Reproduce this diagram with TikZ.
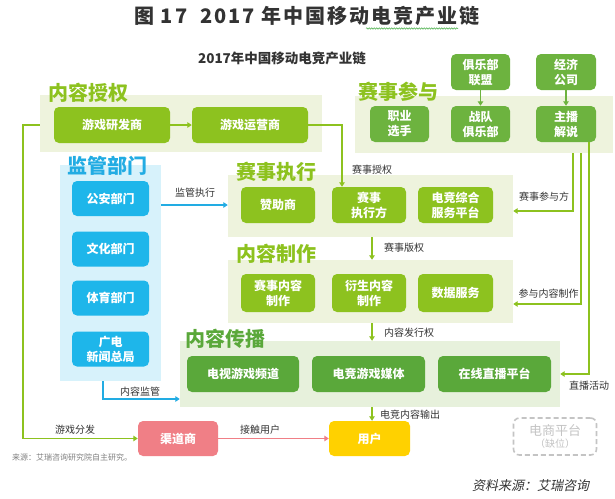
\documentclass[tikz,border=0pt]{standalone}
\usepackage{fontspec}
\setmainfont{Noto Sans CJK SC}
\newfontfamily\slantfont{Noto Sans CJK SC}[FakeSlant=0.2]
\usetikzlibrary{arrows.meta,decorations.pathmorphing}
\definecolor{panelg}{HTML}{EEF3DD}
\definecolor{panelc}{HTML}{E7F1DC}
\definecolor{panelb}{HTML}{D7F2FB}
\definecolor{yg}{HTML}{8DC21F}
\definecolor{mg}{HTML}{6DB33F}
\definecolor{dg}{HTML}{5AA83A}
\definecolor{bl}{HTML}{1EB6EA}
\definecolor{bltxt}{HTML}{22ACE3}
\definecolor{pk}{HTML}{F07F86}
\definecolor{yl}{HTML}{FFD100}
\definecolor{txt}{HTML}{333333}
\definecolor{ecg}{HTML}{C4C4C4}
\definecolor{squig}{HTML}{5CB85C}
\begin{document}
\begin{tikzpicture}[x=1pt,y=-1pt,
  box/.style={rounded corners=5pt, text=white, font=\fontsize{12}{15}\selectfont\bfseries, align=center, inner sep=0pt, minimum height=36pt},
  ygbox/.style={box, fill=yg},
  mgbox/.style={box, fill=mg},
  dgbox/.style={box, fill=dg},
  blbox/.style={box, fill=bl, minimum width=77pt, minimum height=35pt},
  panel/.style={inner sep=0pt, draw=none},
  plabel/.style={font=\fontsize{20}{22}\selectfont\bfseries, anchor=west, inner sep=0pt},
  ann/.style={font=\fontsize{10}{12}\selectfont, text=txt, inner sep=0pt},
  conn/.style={line width=1.6pt, -{Triangle[length=4.5pt,width=5.5pt]}}
]
\useasboundingbox (0,0) rectangle (615,498);
\fill[white] (0,0) rectangle (615,498);

% titles
\node[font=\fontsize{20}{24}\selectfont\bfseries, text=txt, inner sep=0pt] (title) at (307,16) {\addfontfeature{LetterSpace=10}图 17~ 2017 年中国移动电竞产业链};
\draw[squig, line width=0.6pt, decorate, decoration={snake, amplitude=0.7pt, segment length=2.5pt}] (366,28.5) -- (458,28.5);
\node[font=\fontsize{13.5}{16}\selectfont\bfseries, text=txt, inner sep=0pt] (sub) at (282,58) {2017年中国移动电竞产业链};

% panels
\node[panel, fill=panelg, minimum width=282pt, minimum height=57pt] (pA) at (181,123.5) {};
\node[panel, fill=panelg, minimum width=258pt, minimum height=57pt] (pP) at (484,124.5) {};
\node[panel, fill=panelg, minimum width=285pt, minimum height=62pt] (pE) at (370.5,206) {};
\node[panel, fill=panelg, minimum width=285pt, minimum height=63pt] (pM) at (370.5,291.5) {};
\node[panel, fill=panelc, minimum width=380pt, minimum height=66pt] (pC) at (370,374) {};
\node[panel, fill=panelb, minimum width=101pt, minimum height=216pt] (pR) at (110.5,273) {};

% panel labels
\node[plabel, text=yg] (lA) at (48,92.5) {内容授权};
\node[plabel, text=yg] (lP) at (358,92) {赛事参与};
\node[plabel, text=yg] (lE) at (236,172) {赛事执行};
\node[plabel, text=yg] (lM) at (236,254) {内容制作};
\node[plabel, text=dg] (lC) at (185,339) {内容传播};
\node[plabel, text=bltxt] (lR) at (67,166) {监管部门};

% boxes
\node[ygbox, minimum width=116pt] (dev) at (112,125) {游戏研发商};
\node[ygbox, minimum width=116pt] (ops) at (250,125) {游戏运营商};
\node[mgbox, minimum width=59pt] (pro) at (399.5,124) {职业\\选手};
\node[mgbox, minimum width=59pt] (team) at (480.5,124) {战队\\俱乐部};
\node[mgbox, minimum width=60pt] (host) at (566,124) {主播\\解说};
\node[mgbox, minimum width=59pt] (league) at (480.5,72) {俱乐部\\联盟};
\node[mgbox, minimum width=60pt] (agency) at (566,72) {经济\\公司};

\node[ygbox, minimum width=74pt] (spon) at (278,205) {赞助商};
\node[ygbox, minimum width=74pt] (exec) at (369,205) {赛事\\执行方};
\node[ygbox, minimum width=75pt] (svc) at (455.5,205) {电竞综合\\服务平台};

\node[ygbox, minimum width=74pt, minimum height=38pt] (cprod) at (278,293) {赛事内容\\制作};
\node[ygbox, minimum width=74pt, minimum height=38pt] (deriv) at (369,293) {衍生内容\\制作};
\node[ygbox, minimum width=75pt, minimum height=38pt] (data) at (455.5,293) {数据服务};

\node[dgbox, minimum width=112pt] (tv) at (243,374) {电视游戏频道};
\node[dgbox, minimum width=113pt] (media) at (368.5,374) {电竞游戏媒体};
\node[dgbox, minimum width=113pt] (live) at (494.5,374) {在线直播平台};

\node[blbox] (ga) at (110.5,198.5) {公安部门};
\node[blbox] (wh) at (110.5,249) {文化部门};
\node[blbox] (ty) at (110.5,298) {体育部门};
\node[blbox] (gd) at (110.5,349) {广电\\新闻总局};

\node[box, fill=pk, minimum width=80pt, minimum height=35pt] (chan) at (178,438.5) {渠道商};
\node[box, fill=yl, minimum width=81pt, minimum height=35pt] (user) at (369.5,438.5) {用户};

\node[draw=ecg, dash pattern=on 5pt off 3pt, line width=1.6pt, rounded corners=6pt, minimum width=83pt, minimum height=37pt, align=center, inner sep=0pt, text=ecg] (ec) at (555,436.5) {{\fontsize{13}{15}\selectfont 电商平台}\\{\fontsize{10}{12}\selectfont （缺位）}};

% connectors
\coordinate (ax) at (372,0);
\draw[conn, yg] (dev) -- (ops);
\coordinate (c1) at (342,125);
\draw[conn, yg] (ops.east) -- (c1) -- (c1 |- exec.north);
\draw[conn, mg] (league) -- (team);
\draw[conn, mg] (agency) -- (host);
\draw[conn, yg] (pE.south -| ax) -- (pM.north -| ax);
\draw[conn, yg] (pM.south -| ax) -- (pC.north -| ax);
\draw[conn, yg] (pC.south -| ax) -- (user.north -| ax);
\draw[conn, bltxt] (pR.east |- spon) -- (pE.west |- spon);
\coordinate (k1) at (103,399);
\draw[conn, bltxt] (pR.south -| k1) -- (k1) -- (pC.west |- k1);
\coordinate (g1) at (23,125);
\draw[conn, yg] (pA.west |- g1) -- (g1) -- (g1 |- chan) -- (chan.west);
\draw[conn, pk] (chan) -- (user);
\coordinate (r1) at (573,211);
\draw[conn, yg] (pP.south -| r1) -- (r1) -- (pE.east |- r1);
\coordinate (r2) at (581,304);
\draw[conn, yg] (pP.south -| r2) -- (r2) -- (pM.east |- r2);
\coordinate (r3) at (589,374);
\draw[conn, yg] (host.south -| r3) -- (r3) -- (pC.east |- r3);

% connector labels
\node[ann, anchor=west] (t1) at (352,170) {赛事授权};
\node[ann, anchor=west] (t2) at (384,248) {赛事版权};
\node[ann, anchor=west] (t3) at (384,333) {内容发行权};
\node[ann, anchor=west] (t4) at (380,415) {电竞内容输出};
\node[ann] (t5) at (195,193) {监管执行};
\node[ann] (t6) at (140,392) {内容监管};
\node[ann] (t7) at (75,430) {游戏分发};
\node[ann] (t8) at (260,430) {接触用户};
\node[ann] (t9) at (544,197) {赛事参与方};
\node[ann] (t10) at (548.5,294) {参与内容制作};
\node[ann] (t11) at (589,386) {直播活动};

% sources
\node[font=\fontsize{8}{10}\selectfont, text=gray, anchor=west, inner sep=0pt] (src) at (12,457) {来源：艾瑞咨询研究院自主研究。};
\node[font=\slantfont\fontsize{13}{15}\selectfont, text=txt, anchor=west, inner sep=0pt] (src2) at (472,486) {资料来源：艾瑞咨询};
\end{tikzpicture}
\end{document}
